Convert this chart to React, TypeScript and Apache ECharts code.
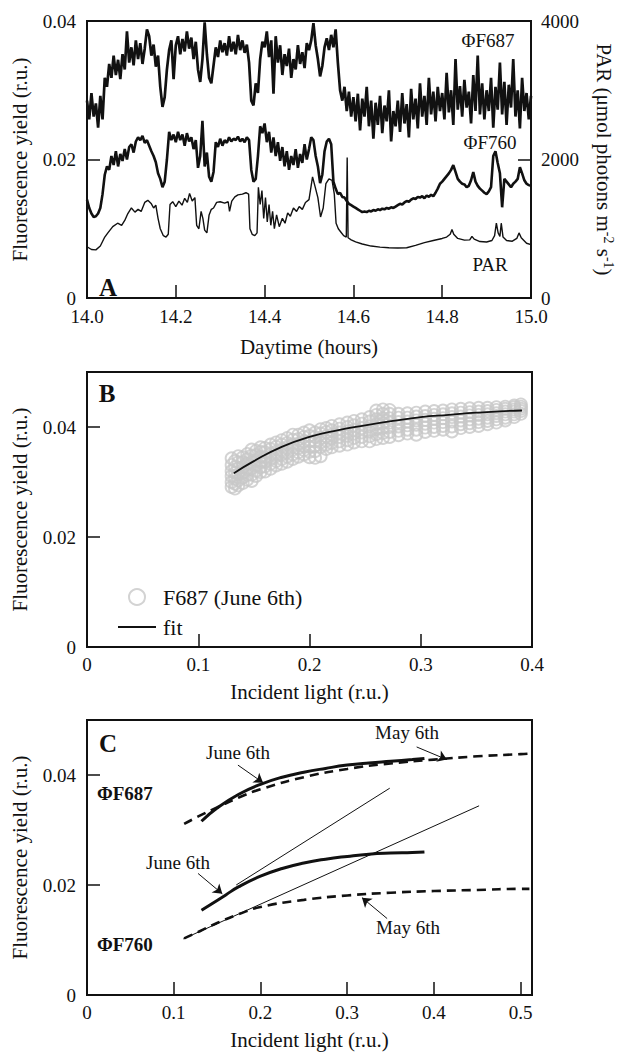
import React, { useEffect, useRef } from "react";
import * as echarts from "echarts";

const FONT = "Liberation Serif";
const INK = "#111111";

// ---------- Panel A : time series (14.0 – 15.0 h) ----------
const sampleStart = 14.0;
const sampleStep = 0.005; // h
const phiF687 = [
  0.0285, 0.0258, 0.0296, 0.0262, 0.0281, 0.0246, 0.0292, 0.0258, 0.0318, 0.0305,
  0.0338, 0.0318, 0.0350, 0.0322, 0.0344, 0.0316, 0.0352, 0.0330, 0.0385, 0.0340,
  0.0362, 0.0336, 0.0372, 0.0345, 0.0368, 0.0338, 0.0360, 0.0388, 0.0378, 0.0350,
  0.0366, 0.0334, 0.0350, 0.0305, 0.0276, 0.0290, 0.0330, 0.0358, 0.0372, 0.0316,
  0.0365, 0.0378, 0.0352, 0.0374, 0.0356, 0.0385, 0.0360, 0.0376, 0.0345, 0.0370,
  0.0330, 0.0312, 0.0345, 0.0398, 0.0352, 0.0318, 0.0310, 0.0336, 0.0362, 0.0348,
  0.0372, 0.0355, 0.0368, 0.0350, 0.0378, 0.0356, 0.0370, 0.0352, 0.0380, 0.0358,
  0.0372, 0.0354, 0.0366, 0.0340, 0.0285, 0.0278, 0.0310, 0.0296, 0.0345, 0.0370,
  0.0362, 0.0385, 0.0348, 0.0372, 0.0295, 0.0378, 0.0340, 0.0365, 0.0322, 0.0352,
  0.0335, 0.0360, 0.0318, 0.0345, 0.0330, 0.0365, 0.0338, 0.0355, 0.0332, 0.0368,
  0.0358, 0.0372, 0.0397, 0.0365, 0.0345, 0.0320, 0.0335, 0.0362, 0.0375, 0.0358,
  0.0380, 0.0362, 0.0388, 0.0340, 0.0300, 0.0285, 0.0305, 0.0270, 0.0298, 0.0262,
  0.0290, 0.0255, 0.0295, 0.0242, 0.0288, 0.0262, 0.0305, 0.0248, 0.0285, 0.0230,
  0.0282, 0.0250, 0.0292, 0.0238, 0.0278, 0.0255, 0.0300, 0.0226, 0.0270, 0.0248,
  0.0285, 0.0240, 0.0296, 0.0252, 0.0280, 0.0232, 0.0302, 0.0258, 0.0288, 0.0245,
  0.0310, 0.0262, 0.0292, 0.0250, 0.0318, 0.0265, 0.0298, 0.0255, 0.0305, 0.0270,
  0.0296, 0.0258, 0.0325, 0.0268, 0.0300, 0.0250, 0.0345, 0.0272, 0.0306, 0.0262,
  0.0315, 0.0275, 0.0298, 0.0252, 0.0322, 0.0270, 0.0350, 0.0265, 0.0310, 0.0258,
  0.0300, 0.0270, 0.0318, 0.0246, 0.0305, 0.0272, 0.0340, 0.0265, 0.0312, 0.0250,
  0.0308, 0.0275, 0.0345, 0.0262, 0.0300, 0.0245, 0.0318, 0.0270, 0.0296, 0.0258,
  0.0292,
];
const phiF760 = [
  0.0142, 0.0130, 0.0122, 0.0117, 0.0118, 0.0122, 0.0130, 0.0150, 0.0178, 0.0190,
  0.0185, 0.0205, 0.0192, 0.0212, 0.0190, 0.0208, 0.0198, 0.0215, 0.0200, 0.0218,
  0.0222, 0.0210, 0.0226, 0.0232, 0.0228, 0.0234, 0.0224, 0.0228, 0.0220, 0.0212,
  0.0205, 0.0196, 0.0180, 0.0172, 0.0160, 0.0168, 0.0200, 0.0240, 0.0228, 0.0236,
  0.0225, 0.0240, 0.0228, 0.0236, 0.0220, 0.0238, 0.0226, 0.0232, 0.0215, 0.0228,
  0.0188, 0.0205, 0.0256, 0.0190, 0.0210, 0.0175, 0.0168, 0.0182, 0.0225, 0.0218,
  0.0230, 0.0220, 0.0228, 0.0224, 0.0232, 0.0226, 0.0230, 0.0228, 0.0233, 0.0226,
  0.0230, 0.0225, 0.0232, 0.0228, 0.0185, 0.0168, 0.0172, 0.0205, 0.0248, 0.0238,
  0.0252, 0.0225, 0.0240, 0.0210, 0.0232, 0.0205, 0.0225, 0.0198, 0.0218, 0.0190,
  0.0212, 0.0185, 0.0205, 0.0192, 0.0215, 0.0188, 0.0208, 0.0195, 0.0222, 0.0200,
  0.0215, 0.0232, 0.0228, 0.0205, 0.0190, 0.0166, 0.0178, 0.0212, 0.0226, 0.0230,
  0.0222, 0.0168, 0.0158, 0.0150, 0.0152, 0.0146, 0.0145, 0.0140, 0.0136, 0.0134,
  0.0132, 0.0130, 0.0128, 0.0126, 0.0124, 0.0125, 0.0124, 0.0126, 0.0125, 0.0127,
  0.0126, 0.0128, 0.0127, 0.0129, 0.0128, 0.0130, 0.0129, 0.0131, 0.0130, 0.0132,
  0.0134, 0.0136, 0.0135, 0.0138, 0.0140, 0.0139, 0.0142, 0.0144, 0.0143, 0.0146,
  0.0145, 0.0147, 0.0144, 0.0148, 0.0146, 0.0149, 0.0147, 0.0152, 0.0158, 0.0165,
  0.0168, 0.0172, 0.0176, 0.0180, 0.0185, 0.0192, 0.0182, 0.0172, 0.0168, 0.0165,
  0.0164, 0.0160, 0.0162, 0.0170, 0.0182, 0.0168, 0.0162, 0.0158, 0.0155, 0.0152,
  0.0150, 0.0154, 0.0160, 0.0205, 0.0212, 0.0195, 0.0180, 0.0131, 0.0172, 0.0168,
  0.0164, 0.0160, 0.0165, 0.0168, 0.0172, 0.0189, 0.0180, 0.0170, 0.0165, 0.0163,
  0.0162,
];
// PAR (µmol photons m-2 s-1): [time h, value]
const parSeries = [
  [14.0, 740], [14.01, 700], [14.02, 695], [14.03, 750], [14.04, 880], [14.047, 940],
  [14.058, 1030], [14.069, 1080], [14.078, 1050], [14.085, 1120], [14.092, 1220], [14.1, 1300],
  [14.108, 1240], [14.115, 1280], [14.122, 1250], [14.13, 1380], [14.137, 1410], [14.145, 1360],
  [14.15, 1300], [14.155, 1340], [14.16, 1150], [14.165, 1000], [14.172, 900], [14.178, 880],
  [14.183, 920], [14.187, 1350], [14.193, 1390], [14.2, 1320], [14.207, 1400], [14.214, 1340],
  [14.22, 1440], [14.226, 1380], [14.231, 1510], [14.237, 1400], [14.243, 1450], [14.247, 1050],
  [14.252, 1000], [14.257, 1250], [14.261, 1150], [14.265, 980], [14.27, 940], [14.275, 1200],
  [14.28, 1280], [14.285, 1300], [14.292, 1380], [14.3, 1390], [14.31, 1370], [14.318, 1390],
  [14.321, 1250], [14.326, 1400], [14.333, 1460], [14.34, 1490], [14.35, 1500], [14.358, 1520],
  [14.364, 1500], [14.367, 1000], [14.372, 920], [14.378, 900], [14.383, 940], [14.386, 1600],
  [14.39, 1350], [14.394, 1550], [14.398, 1150], [14.402, 1450], [14.406, 1100], [14.41, 1350],
  [14.414, 1050], [14.418, 1250], [14.422, 1000], [14.427, 1200], [14.433, 1030], [14.44, 1150],
  [14.446, 1080], [14.452, 1230], [14.458, 1180], [14.465, 1300], [14.472, 1250], [14.478, 1320],
  [14.485, 1280], [14.492, 1380], [14.5, 1420], [14.508, 1750], [14.514, 1600], [14.52, 1450],
  [14.526, 1170], [14.532, 1300], [14.538, 1650], [14.545, 1720], [14.552, 1700], [14.557, 1500],
  [14.561, 1080], [14.566, 1000], [14.572, 950], [14.578, 900], [14.584, 880], [14.586, 2030],
  [14.588, 870], [14.595, 840], [14.605, 810], [14.62, 780], [14.64, 750], [14.66, 735],
  [14.68, 725], [14.7, 722], [14.72, 725], [14.74, 760], [14.76, 800], [14.78, 830],
  [14.8, 860], [14.81, 880], [14.818, 920], [14.822, 990], [14.826, 920], [14.835, 860],
  [14.85, 835], [14.862, 840], [14.867, 890], [14.872, 850], [14.885, 815], [14.9, 808],
  [14.912, 830], [14.918, 900], [14.922, 1080], [14.926, 940], [14.93, 890], [14.933, 1080],
  [14.937, 880], [14.945, 830], [14.958, 820], [14.968, 860], [14.973, 940], [14.978, 870],
  [14.99, 790], [15.0, 770],
];

// ---------- Panel B : F687 (June 6th) vs incident light ----------
// columns of measured points: [incident light, [yields...]]
const scatterColumns: [number, number[]][] = [
  [0.130, [0.0291, 0.0300, 0.0311, 0.0320, 0.0331, 0.0343]],
  [0.133, [0.0288, 0.0297, 0.0306, 0.0317, 0.0327, 0.0338]],
  [0.136, [0.0294, 0.0303, 0.0314, 0.0324, 0.0336, 0.0347]],
  [0.140, [0.0298, 0.0308, 0.0317, 0.0327, 0.0336, 0.0345]],
  [0.144, [0.0304, 0.0313, 0.0323, 0.0333, 0.0342, 0.0351]],
  [0.148, [0.0302, 0.0313, 0.0325, 0.0336, 0.0348, 0.0359]],
  [0.152, [0.0311, 0.0320, 0.0330, 0.0339, 0.0349, 0.0357]],
  [0.156, [0.0318, 0.0327, 0.0336, 0.0346, 0.0355, 0.0363]],
  [0.160, [0.0319, 0.0328, 0.0337, 0.0345, 0.0354, 0.0362]],
  [0.165, [0.0324, 0.0333, 0.0342, 0.0351, 0.0360, 0.0368]],
  [0.170, [0.0330, 0.0338, 0.0347, 0.0355, 0.0364, 0.0372]],
  [0.175, [0.0333, 0.0342, 0.0350, 0.0359, 0.0368, 0.0376]],
  [0.180, [0.0337, 0.0346, 0.0354, 0.0363, 0.0371, 0.0380]],
  [0.185, [0.0342, 0.0350, 0.0359, 0.0368, 0.0377, 0.0386]],
  [0.190, [0.0346, 0.0354, 0.0362, 0.0370, 0.0378, 0.0386]],
  [0.195, [0.0350, 0.0358, 0.0366, 0.0374, 0.0382, 0.0390]],
  [0.200, [0.0345, 0.0355, 0.0364, 0.0374, 0.0384, 0.0394]],
  [0.205, [0.0344, 0.0356, 0.0366, 0.0374, 0.0382, 0.0390]],
  [0.210, [0.0347, 0.0364, 0.0372, 0.0380, 0.0388, 0.0396]],
  [0.215, [0.0360, 0.0368, 0.0375, 0.0383, 0.0391, 0.0398]],
  [0.220, [0.0363, 0.0371, 0.0379, 0.0386, 0.0394, 0.0402]],
  [0.227, [0.0366, 0.0374, 0.0382, 0.0390, 0.0397, 0.0405]],
  [0.234, [0.0368, 0.0376, 0.0384, 0.0392, 0.0400, 0.0408]],
  [0.240, [0.0372, 0.0380, 0.0388, 0.0395, 0.0403, 0.0411]],
  [0.247, [0.0374, 0.0382, 0.0390, 0.0398, 0.0406, 0.0414]],
  [0.254, [0.0374, 0.0383, 0.0392, 0.0401, 0.0410, 0.0418]],
  [0.260, [0.0378, 0.0387, 0.0396, 0.0405, 0.0414, 0.0422, 0.0430]],
  [0.266, [0.0380, 0.0389, 0.0398, 0.0407, 0.0416, 0.0424, 0.0432]],
  [0.272, [0.0382, 0.0391, 0.0400, 0.0408, 0.0416, 0.0424, 0.0431]],
  [0.280, [0.0385, 0.0393, 0.0401, 0.0409, 0.0417, 0.0424]],
  [0.288, [0.0388, 0.0395, 0.0403, 0.0410, 0.0417, 0.0425]],
  [0.296, [0.0386, 0.0395, 0.0404, 0.0412, 0.0419, 0.0426]],
  [0.304, [0.0391, 0.0399, 0.0406, 0.0413, 0.0420, 0.0428]],
  [0.312, [0.0393, 0.0400, 0.0408, 0.0415, 0.0422, 0.0429]],
  [0.320, [0.0395, 0.0402, 0.0409, 0.0416, 0.0423, 0.0430]],
  [0.328, [0.0392, 0.0401, 0.0410, 0.0418, 0.0425, 0.0432]],
  [0.336, [0.0398, 0.0405, 0.0412, 0.0419, 0.0426, 0.0433]],
  [0.344, [0.0400, 0.0407, 0.0414, 0.0421, 0.0427, 0.0434]],
  [0.352, [0.0402, 0.0409, 0.0415, 0.0422, 0.0428, 0.0435]],
  [0.360, [0.0405, 0.0411, 0.0417, 0.0423, 0.0429, 0.0435]],
  [0.368, [0.0408, 0.0414, 0.0420, 0.0425, 0.0431, 0.0436]],
  [0.376, [0.0412, 0.0417, 0.0423, 0.0428, 0.0433, 0.0437]],
  [0.384, [0.0418, 0.0423, 0.0428, 0.0432, 0.0436, 0.0439]],
  [0.390, [0.0424, 0.0429, 0.0433, 0.0437, 0.0441]],
];
const fitLight = [0.132, 0.15, 0.175, 0.2, 0.225, 0.25, 0.275, 0.3, 0.325, 0.35, 0.375, 0.391];
const fitYield = [0.0316, 0.0338, 0.0364, 0.0382, 0.0394, 0.0403, 0.0411, 0.0418, 0.0422, 0.0426, 0.0429, 0.0430];

// ---------- Panel C : June 6th vs May 6th ----------
const juneF687Light = [0.132, 0.15, 0.175, 0.2, 0.225, 0.25, 0.275, 0.3, 0.325, 0.35, 0.375, 0.389];
const juneF687Yield = [0.0316, 0.0340, 0.0365, 0.0383, 0.0396, 0.0405, 0.0412, 0.0418, 0.0422, 0.0425, 0.0428, 0.0430];
const mayF687Light = [0.112, 0.13, 0.15, 0.175, 0.2, 0.25, 0.3, 0.35, 0.4, 0.45, 0.5, 0.51];
const mayF687Yield = [0.0311, 0.0326, 0.0341, 0.0359, 0.0374, 0.0396, 0.0411, 0.0421, 0.0428, 0.0434, 0.0438, 0.0439];
const juneF760Light = [0.132, 0.15, 0.16, 0.175, 0.2, 0.225, 0.25, 0.275, 0.3, 0.325, 0.35, 0.375, 0.389];
const juneF760Yield = [0.0154, 0.0172, 0.0182, 0.0197, 0.0216, 0.0230, 0.0240, 0.0247, 0.0252, 0.0256, 0.0258, 0.0259, 0.0260];
const mayF760Light = [0.112, 0.13, 0.15, 0.175, 0.2, 0.25, 0.3, 0.35, 0.4, 0.45, 0.5, 0.51];
const mayF760Yield = [0.0103, 0.0116, 0.0131, 0.0147, 0.0160, 0.0173, 0.0181, 0.0186, 0.0189, 0.0191, 0.0193, 0.0193];
const tangentSteep = [[0.172, 0.0200], [0.349, 0.0376]];
const tangentShallow = [[0.111, 0.0102], [0.452, 0.0344]];
// annotation arrows [from, to]
const arrows = [
  [[0.174, 0.0418], [0.203, 0.0386]],
  [[0.380, 0.0451], [0.4148, 0.0428]],
  [[0.128, 0.0221], [0.156, 0.0184]],
  [[0.346, 0.0139], [0.317, 0.0177]],
];

const pair = (xs: number[], ys: number[]) => xs.map((x, i) => [x, ys[i]]);

export default function App() {
  const ref = useRef<HTMLDivElement>(null);
  useEffect(() => {
    document.body.style.margin = "0";
    const chart = echarts.init(ref.current!, undefined, { renderer: "svg" });

    const lbl = { color: INK, fontFamily: FONT, fontSize: 19 };
    const axisLine = { show: true, onZero: false, lineStyle: { color: INK, width: 2 } };
    const tick = { show: true, inside: true, length: 13, lineStyle: { color: INK, width: 1.5 } };
    const nameStyle = { color: INK, fontFamily: FONT, fontSize: 21 };
    const yTitle = "Fluorescence yield (r.u.)";
    const fmtY = (v: number) => (v === 0 ? "0" : v.toFixed(2));
    const fmtX1 = (v: number) => (v === 0 ? "0" : v.toFixed(1));

    const f687Data = phiF687.map((v, i) => [sampleStart + i * sampleStep, v]);
    const f760Data = phiF760.map((v, i) => [sampleStart + i * sampleStep, v]);
    const scatterData: number[][] = [];
    scatterColumns.forEach(([x, ys]) => ys.forEach((y) => scatterData.push([x, y])));

    const gridC = { xAxisIndex: 2, yAxisIndex: 3 };

    const text = (x: number, y: number, t: string, opts: any = {}) => ({
      type: "text",
      x,
      y,
      style: {
        text: t,
        fill: INK,
        fontFamily: FONT,
        fontSize: opts.size || 19,
        fontWeight: opts.bold ? "bold" : "normal",
        align: opts.align || "center",
        verticalAlign: "middle",
      },
    });

    chart.setOption({
      animation: false,
      textStyle: { fontFamily: FONT },
      grid: [
        { left: 87, top: 21, width: 445, height: 277, show: true, borderColor: INK, borderWidth: 2 },
        { left: 87, top: 372, width: 445, height: 275, show: true, borderColor: INK, borderWidth: 2 },
        { left: 87, top: 720, width: 445, height: 275, show: true, borderColor: INK, borderWidth: 2 },
      ],
      xAxis: [
        {
          type: "value", gridIndex: 0, min: 14, max: 15, interval: 0.2,
          axisLine, axisTick: tick, splitLine: { show: false },
          axisLabel: { ...lbl, margin: 9, formatter: (v: number) => v.toFixed(1) },
          name: "Daytime (hours)", nameLocation: "middle", nameGap: 38, nameTextStyle: nameStyle,
        },
        {
          type: "value", gridIndex: 1, min: 0, max: 0.4, interval: 0.1,
          axisLine, axisTick: tick, splitLine: { show: false },
          axisLabel: { ...lbl, margin: 8, formatter: fmtX1 },
          name: "Incident light (r.u.)", nameLocation: "middle", nameGap: 34, nameTextStyle: nameStyle,
        },
        {
          type: "value", gridIndex: 2, min: 0, max: 0.513,
          axisLine, splitLine: { show: false },
          axisTick: { ...tick, customValues: [0, 0.1, 0.2, 0.3, 0.4, 0.5] },
          axisLabel: { ...lbl, margin: 8, formatter: fmtX1, customValues: [0, 0.1, 0.2, 0.3, 0.4, 0.5] },
          name: "Incident light (r.u.)", nameLocation: "middle", nameGap: 34, nameTextStyle: nameStyle,
        },
      ],
      yAxis: [
        {
          type: "value", gridIndex: 0, min: 0, max: 0.04, interval: 0.02,
          axisLine, axisTick: tick, splitLine: { show: false },
          axisLabel: { ...lbl, margin: 11, formatter: fmtY },
          name: yTitle, nameLocation: "middle", nameRotate: 90, nameGap: 57, nameTextStyle: nameStyle,
        },
        {
          type: "value", gridIndex: 0, min: 0, max: 4000, interval: 2000, position: "right",
          axisLine, axisTick: tick, splitLine: { show: false },
          axisLabel: { ...lbl, margin: 10, formatter: (v: number) => String(v) },
          name: "PAR (μmol photons m{sup|-2} s{sup|-1})", nameLocation: "middle", nameRotate: -90, nameGap: 62,
          nameTextStyle: {
            ...nameStyle,
            rich: { sup: { fontFamily: FONT, fontSize: 14, color: INK, verticalAlign: "top", padding: [0, 0, 8, 0] } },
          },
        },
        {
          type: "value", gridIndex: 1, min: 0, max: 0.05,
          axisLine, splitLine: { show: false },
          axisTick: { ...tick, customValues: [0, 0.02, 0.04] },
          axisLabel: { ...lbl, margin: 11, formatter: fmtY, customValues: [0, 0.02, 0.04] },
          name: yTitle, nameLocation: "middle", nameRotate: 90, nameGap: 57, nameTextStyle: nameStyle,
        },
        {
          type: "value", gridIndex: 2, min: 0, max: 0.05,
          axisLine, splitLine: { show: false },
          axisTick: { ...tick, customValues: [0, 0.02, 0.04] },
          axisLabel: { ...lbl, margin: 11, formatter: fmtY, customValues: [0, 0.02, 0.04] },
          name: yTitle, nameLocation: "middle", nameRotate: 90, nameGap: 57, nameTextStyle: nameStyle,
        },
      ],
      legend: {
        data: [
          { name: "F687 (June 6th)", icon: "circle" },
          { name: "fit", icon: "path://M0,0H38V2H0Z" },
        ],
        orient: "vertical",
        left: 113,
        top: 581,
        itemWidth: 38,
        itemHeight: 16,
        itemGap: 8,
        textStyle: { color: INK, fontFamily: FONT, fontSize: 22, padding: [0, 0, 0, 2] },
      },
      series: [
        {
          name: "ΦF687", type: "line", xAxisIndex: 0, yAxisIndex: 0, data: f687Data,
          showSymbol: false, symbol: "none", lineStyle: { color: INK, width: 2.7 }, z: 3,
        },
        {
          name: "ΦF760", type: "line", xAxisIndex: 0, yAxisIndex: 0, data: f760Data,
          showSymbol: false, symbol: "none", lineStyle: { color: INK, width: 2.6 }, z: 3,
        },
        {
          name: "PAR", type: "line", xAxisIndex: 0, yAxisIndex: 1, data: parSeries,
          showSymbol: false, symbol: "none", lineStyle: { color: INK, width: 1.4 }, z: 3,
        },
        {
          name: "F687 (June 6th)", type: "scatter", xAxisIndex: 1, yAxisIndex: 2, data: scatterData,
          symbol: "circle", symbolSize: 12,
          itemStyle: { color: "rgba(0,0,0,0)", borderColor: "#c8c8c8", borderWidth: 1.9 },
        },
        {
          name: "fit", type: "line", xAxisIndex: 1, yAxisIndex: 2, data: pair(fitLight, fitYield),
          smooth: true, showSymbol: false, symbol: "none",
          itemStyle: { color: INK }, lineStyle: { color: INK, width: 1.8 }, z: 4,
        },
        {
          name: "June F687", type: "line", ...gridC, data: pair(juneF687Light, juneF687Yield),
          smooth: true, showSymbol: false, symbol: "none", lineStyle: { color: INK, width: 3 },
        },
        {
          name: "May F687", type: "line", ...gridC, data: pair(mayF687Light, mayF687Yield),
          smooth: true, showSymbol: false, symbol: "none", lineStyle: { color: INK, width: 2.6, type: [9, 6] },
        },
        {
          name: "June F760", type: "line", ...gridC, data: pair(juneF760Light, juneF760Yield),
          smooth: true, showSymbol: false, symbol: "none", lineStyle: { color: INK, width: 3 },
        },
        {
          name: "May F760", type: "line", ...gridC, data: pair(mayF760Light, mayF760Yield),
          smooth: true, showSymbol: false, symbol: "none", lineStyle: { color: INK, width: 2.6, type: [9, 6] },
        },
        {
          name: "tangent 1", type: "line", ...gridC, data: tangentSteep,
          showSymbol: false, symbol: "none", lineStyle: { color: INK, width: 1 },
        },
        {
          name: "tangent 2", type: "line", ...gridC, data: tangentShallow,
          showSymbol: false, symbol: "none", lineStyle: { color: INK, width: 1 },
          markLine: {
            silent: true,
            symbol: ["none", "arrow"],
            symbolSize: 9,
            label: { show: false },
            lineStyle: { color: INK, width: 1, type: "solid" },
            data: arrows.map(([a, b]) => [{ coord: a }, { coord: b }]),
          },
        },
      ],
      graphic: [
        text(108, 287, "A", { size: 25, bold: true }),
        text(488, 40, "ΦF687"),
        text(490, 142, "ΦF760"),
        text(490, 264, "PAR"),
        text(107, 393, "B", { size: 25, bold: true }),
        text(108, 743, "C", { size: 25, bold: true }),
        text(97, 793, "ΦF687", { bold: true, align: "left" }),
        text(97, 944, "ΦF760", { bold: true, align: "left" }),
        text(238, 752, "June 6th"),
        text(407, 732, "May 6th"),
        text(178, 862, "June 6th"),
        text(408, 927, "May 6th"),
      ],
    });
    return () => chart.dispose();
  }, []);
  return <div ref={ref} style={{ width: 623, height: 1052 }} />;
}
